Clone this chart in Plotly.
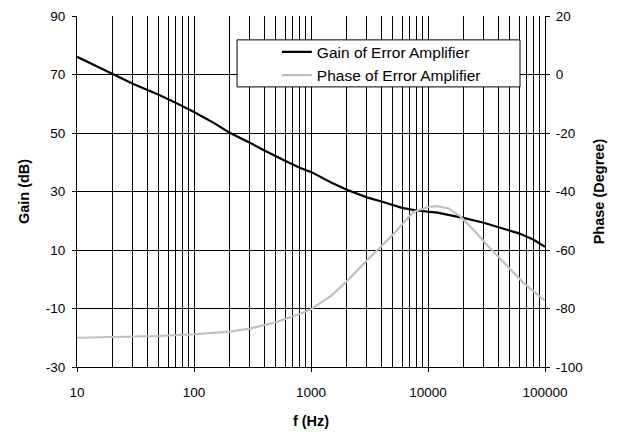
import plotly.graph_objects as go

# ---- data ----
gain_f = [10, 20, 30, 40, 50, 70, 100, 150, 200, 300, 400, 600, 800, 1000, 1500, 2000, 3000,
          4000, 6000, 8000, 10000, 12000, 20000, 30000, 40000, 60000, 80000, 100000]
gain_db = [76.1, 70.2, 66.8, 64.7, 63.1, 60.3, 57.2, 53.3, 50.2, 46.7, 44.0, 40.5, 38.1, 36.7,
           33.0, 30.7, 28.0, 26.6, 24.4, 23.5, 23.1, 22.8, 21.0, 19.3, 17.8, 15.7, 13.5, 11.1]

phase_f = [10, 20, 50, 100, 200, 300, 500, 800, 1000, 1500, 2000, 3000, 4000, 5000,
           7500, 10000, 12000, 15000, 19000, 25000, 32000, 50000, 66000, 100000]
phase_deg = [-90.0, -89.8, -89.4, -88.8, -87.9, -86.9, -84.7, -81.9, -80.3, -75.5, -70.9,
             -63.6, -58.5, -54.8, -47.0, -45.3, -45.0, -45.8, -48.6, -53.5, -58.3, -66.3,
             -71.4, -77.3]

x_ticks = [10, 100, 1000, 10000, 100000]
x_ticktext = ["10", "100", "1000", "10000", "100000"]
gain_ticks = [-30, -10, 10, 30, 50, 70, 90]
gain_ticktext = ["-30", "-10", "10", "30", "50", "70", "90"]
phase_ticks = [-100, -80, -60, -40, -20, 0, 20]
phase_ticktext = ["-100", "-80", "-60", "-40", "-20", "0", "20"]

minor_x = [m * d for d in x_ticks[:-1] for m in range(2, 10)]

FONT = "Liberation Sans, Arial, sans-serif"

fig = go.Figure()
fig.add_trace(go.Scatter(x=gain_f, y=gain_db, mode="lines", name="Gain of Error Amplifier",
                         line=dict(color="black", width=2.2), yaxis="y"))
fig.add_trace(go.Scatter(x=phase_f, y=phase_deg, mode="lines", name="Phase of Error Amplifier",
                         line=dict(color="#c0c0c0", width=2.2), yaxis="y2"))

fig.update_layout(
    width=609, height=426,
    margin=dict(l=69, r=72, t=8, b=67, autoexpand=False),
    paper_bgcolor="white", plot_bgcolor="white",
    font=dict(family=FONT, size=13.5, color="black"),
    showlegend=True,
    legend=dict(x=0.427, xanchor="left", y=0.945, yanchor="top",
                bgcolor="rgba(0,0,0,0)", borderwidth=0,
                font=dict(family=FONT, size=15.5, color="black"),
                tracegroupgap=0),
    xaxis=dict(type="log", range=[1, 5], tickvals=x_ticks, ticktext=x_ticktext,
               showgrid=True, gridcolor="black", gridwidth=1,
               minor=dict(tickvals=minor_x, showgrid=True, gridcolor="black", gridwidth=1, ticks=""),
               showline=True, linecolor="black", linewidth=1,
               ticks="outside", ticklen=4, tickcolor="black", ticklabelstandoff=9,
               zeroline=False,
               title=dict(text="<b>f (Hz)</b>", font=dict(size=14.5), standoff=16)),
    yaxis=dict(range=[-30, 90], tickvals=gain_ticks, ticktext=gain_ticktext,
               showgrid=True, gridcolor="black", gridwidth=1, zeroline=False,
               showline=True, linecolor="black", linewidth=1,
               ticks="outside", ticklen=4, tickcolor="black", ticklabelstandoff=4,
               title=dict(text="<b>Gain (dB)</b>", font=dict(size=14.5), standoff=12)),
    yaxis2=dict(range=[-100, 20], tickvals=phase_ticks, ticktext=phase_ticktext,
                overlaying="y", side="right",
                showgrid=False, zeroline=False,
                showline=True, linecolor="black", linewidth=1,
                ticks="outside", ticklen=4, tickcolor="black", ticklabelstandoff=3,
                title=dict(text="<b>Phase (Degree)</b>", font=dict(size=14.5), standoff=12)),
    shapes=[dict(type="rect", xref="paper", yref="paper",
                 x0=0.342, x1=0.9466, y0=0.798, y1=0.932,
                 fillcolor="white", line=dict(color="black", width=1), layer="above")],
)

fig.write_html("out.html")
